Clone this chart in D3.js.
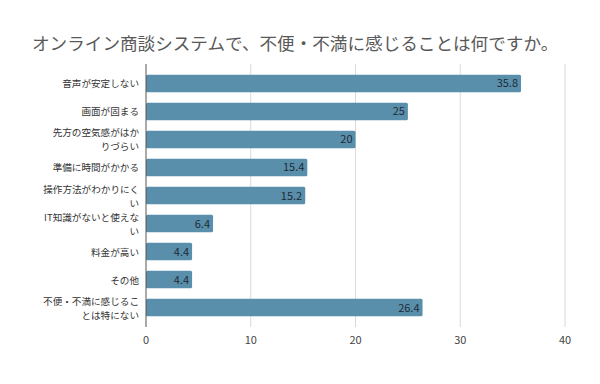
<!DOCTYPE html>
<html lang="ja">
<head>
<meta charset="UTF-8">
<title>オンライン商談システム</title>
<script src="https://d3js.org/d3.v7.min.js"></script>
<style>
  body { margin: 0; background: #fff; }
  svg text { font-family: "Noto Sans CJK JP", "Noto Sans", sans-serif; }
</style>
</head>
<body>
<svg id="chart" width="600" height="384"></svg>
<script>
  // data
  const categories = [
    ["音声が安定しない"],
    ["画面が固まる"],
    ["先方の空気感がはか", "りづらい"],
    ["準備に時間がかかる"],
    ["操作方法がわかりにく", "い"],
    ["IT知識がないと使えな", "い"],
    ["料金が高い"],
    ["その他"],
    ["不便・不満に感じるこ", "とは特にない"]
  ];
  const values = [35.8, 25, 20, 15.4, 15.2, 6.4, 4.4, 4.4, 26.4];
  const ticks = [0, 10, 20, 30, 40];
  const title = "オンライン商談システムで、不便・不満に感じることは何ですか。";

  const svg = d3.select('#chart');
  const plotLeft = 146, plotRight = 565, plotTop = 64, plotBottom = 327;

  const x = d3.scaleLinear().domain([0, 40]).range([plotLeft, plotRight]);
  const y = d3.scaleBand()
      .domain(d3.range(values.length))
      .range([plotTop, plotBottom])
      .paddingInner(0.375)
      .paddingOuter(0.38);

  svg.append('text')
      .attr('x', 32).attr('y', 50)
      .attr('font-size', 17.6)
      .attr('fill', '#595959')
      .text(title);

  // grid
  svg.append('g').selectAll('line')
      .data(ticks.slice(1))
      .join('line')
      .attr('x1', d => x(d)).attr('x2', d => x(d))
      .attr('y1', plotTop).attr('y2', plotBottom)
      .attr('stroke', '#d9d9d9').attr('stroke-width', 1);

  // tick labels
  svg.append('g').selectAll('text')
      .data(ticks)
      .join('text')
      .attr('x', d => x(d)).attr('y', 344)
      .attr('text-anchor', 'middle')
      .attr('font-size', 11)
      .attr('fill', '#444')
      .text(d => d);

  // bars
  svg.append('g').selectAll('rect')
      .data(values)
      .join('rect')
      .attr('x', x(0))
      .attr('y', (d, i) => y(i))
      .attr('width', d => x(d) - x(0))
      .attr('height', y.bandwidth())
      .attr('rx', 1.5)
      .attr('fill', '#5a8fac');

  // value labels
  svg.append('g').selectAll('text')
      .data(values)
      .join('text')
      .attr('x', d => x(d) - 3)
      .attr('y', (d, i) => y(i) + y.bandwidth() / 2 + 4)
      .attr('text-anchor', 'end')
      .attr('font-size', 11)
      .attr('fill', '#1c2b36')
      .text(d => d);

  // category labels, two-line ones as separate texts
  const lines = [];
  categories.forEach((c, i) => c.forEach((t, j) => lines.push({ t, i, j, n: c.length })));
  svg.append('g').selectAll('text')
      .data(lines)
      .join('text')
      .attr('x', 139)
      .attr('y', d => y(d.i) + y.bandwidth() / 2 + 4 + (d.j - (d.n - 1) / 2) * 14)
      .attr('text-anchor', 'end')
      .attr('font-size', 9.6)
      .attr('fill', '#333')
      .text(d => d.t);

  // axis line
  svg.append('line')
      .attr('x1', x(0)).attr('x2', x(0))
      .attr('y1', plotTop).attr('y2', plotBottom)
      .attr('stroke', '#555').attr('stroke-width', 1);
</script>
</body>
</html>
